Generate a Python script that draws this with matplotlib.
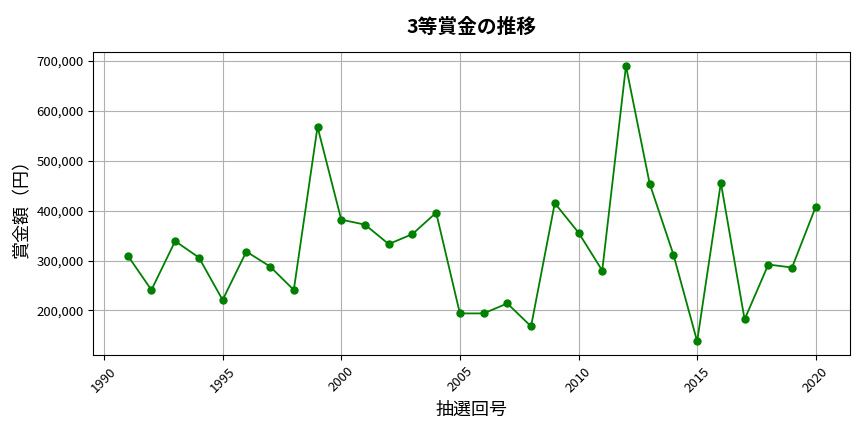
import matplotlib
matplotlib.use('Agg')
import matplotlib.pyplot as plt
from matplotlib.ticker import FuncFormatter

plt.rcParams['font.family'] = ['Noto Sans CJK JP', 'DejaVu Sans']

years = list(range(1991, 2021))
prize = [310000, 241000, 339000, 306000, 221000, 318000, 288000, 241000, 568000, 382000,
         372000, 333000, 353000, 396000, 194000, 194000, 214000, 168000, 415000, 356000,
         280000, 690000, 454000, 312000, 138000, 456000, 182000, 292000, 286000, 408000]

fig, ax = plt.subplots(figsize=(8.64, 4.32), dpi=100)
ax.plot(years, prize, color='green', marker='o', markersize=5, linewidth=1.3)
ax.set_title('3等賞金の推移', fontsize=14.2, fontweight='bold', pad=14)
ax.set_xlabel('抽選回号', fontsize=13, labelpad=4)
ax.set_ylabel('賞金額（円）', fontsize=13, labelpad=4)
ax.yaxis.set_major_formatter(FuncFormatter(lambda v, p: f'{int(v):,}'))
plt.xticks(rotation=45)
ax.grid(True, color='#b0b0b0', linewidth=0.8)
ax.tick_params(labelsize=9.5)
plt.subplots_adjust(left=0.108, right=0.984, top=0.879, bottom=0.178)
plt.savefig('out.png')
